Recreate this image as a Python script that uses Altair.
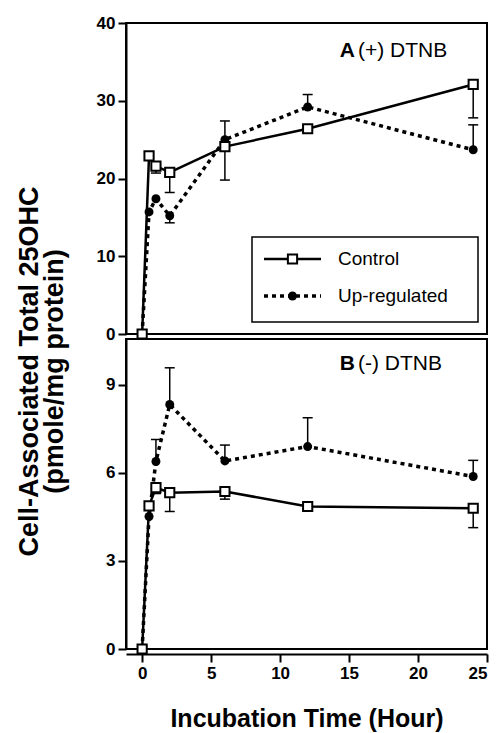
import altair as alt
import pandas as pd

# ---- data ----
hours = [0, 0.5, 1, 2, 6, 12, 24]
series = ["Control", "Up-regulated"]

ctrl_A = [0, 22.9, 21.6, 20.8, 24.1, 26.4, 32.1]
up_A = [0, 15.7, 17.4, 15.2, 25.0, 29.2, 23.7]
ctrl_A_err = [0, 0, -0.9, -2.6, -4.3, -0.4, -4.3]
up_A_err = [0, 0, 0, -0.9, 2.4, 1.6, 3.2]

ctrl_B = [0, 4.87, 5.49, 5.32, 5.36, 4.85, 4.79]
up_B = [0, 4.51, 6.38, 8.32, 6.40, 6.89, 5.87]
ctrl_B_err = [0, 0, -0.2, -0.64, -0.26, 0, -0.66]
up_B_err = [0, 0, 0.75, 1.25, 0.54, 0.98, 0.55]

y_ticks_A = [0, 10, 20, 30, 40]
y_ticks_B = [0, 3, 6, 9]
x_ticks = [0, 5, 10, 15, 20, 25]

FONT = "Liberation Sans"


def make_df(ctrl, up, ctrl_err, up_err):
    rows = []
    for h, v, e in zip(hours, ctrl, ctrl_err):
        rows.append({"hour": h, "value": v, "end": v + e, "err": e, "series": series[0]})
    for h, v, e in zip(hours, up, up_err):
        rows.append({"hour": h, "value": v, "end": v + e, "err": e, "series": series[1]})
    return pd.DataFrame(rows)


dfA = make_df(ctrl_A, up_A, ctrl_A_err, up_A_err)
dfB = make_df(ctrl_B, up_B, ctrl_B_err, up_B_err)


def panel(df, ydomain, yticks, height, letter, rest, bottom):
    x_scale = alt.Scale(domain=[-1.17, 25], nice=False, zero=False)
    y_scale = alt.Scale(domain=ydomain, nice=False, zero=False)
    if bottom:
        x_axis = alt.Axis(values=x_ticks, offset=5, tickSize=8, tickWidth=2,
                          domainWidth=2, domainColor="black", tickColor="black",
                          labelFont=FONT, labelFontWeight="bold", labelFontSize=17,
                          labelColor="black", labelPadding=3, grid=False,
                          title="Incubation Time (Hour)", titleFont=FONT,
                          titleFontSize=25, titleFontWeight="bold", titleColor="black",
                          titlePadding=25)
        y_axis = alt.Axis(values=yticks, tickSize=8, tickWidth=2, domainWidth=2,
                          domainColor="black", tickColor="black", labelFont=FONT,
                          labelFontWeight="bold", labelFontSize=17, labelColor="black",
                          labelPadding=3, grid=False, title="")
    else:
        x_axis = alt.Axis(values=x_ticks, labels=False, ticks=False, domain=False,
                          grid=False, title="")
        y_axis = alt.Axis(values=yticks, tickSize=8, tickWidth=2, domainWidth=2,
                          domainColor="black", tickColor="black", labelFont=FONT,
                          labelFontWeight="bold", labelFontSize=17, labelColor="black",
                          labelPadding=3, grid=False,
                          title=["Cell-Associated Total 25OHC", "(pmole/mg protein)"],
                          titleFont=FONT, titleFontSize=27, titleFontWeight="bold",
                          titleColor="black", titleAngle=270, titleX=-110,
                          titleY=348, titleBaseline="top", titleAlign="center",
                          titleLineHeight=25)

    X = alt.X("hour:Q", scale=x_scale, axis=x_axis)
    Y = alt.Y("value:Q", scale=y_scale, axis=y_axis)
    Yend = alt.Y("end:Q", scale=y_scale, axis=y_axis)

    base = alt.Chart(df)
    ctrl = base.transform_filter(alt.datum.series == series[0])
    up = base.transform_filter(alt.datum.series == series[1])

    ctrl_line = ctrl.mark_line(color="black", strokeWidth=2.5).encode(x=X, y=Y)
    up_line = up.mark_line(color="black", strokeWidth=3.5, strokeDash=[4, 4]).encode(x=X, y=Y)

    errs = base.transform_filter(alt.datum.err != 0)
    err_rule = errs.mark_rule(color="black", strokeWidth=1.5).encode(
        x=X, y=Y, y2=alt.Y2("end:Q"))
    err_cap = errs.mark_point(shape="M-1,0L1,0", stroke="black", strokeWidth=1.5,
                              size=100, opacity=1, filled=False).encode(x=X, y=Yend)

    up_pts = up.mark_point(shape="circle", filled=True, color="black", size=80,
                           opacity=1).encode(x=X, y=Y)
    ctrl_pts = ctrl.mark_point(shape="square", filled=True, fill="white", stroke="black",
                               strokeWidth=2, size=85, opacity=1).encode(x=X, y=Y)

    ly = 28 if not bottom else 25
    lab_df = pd.DataFrame({"a": [letter], "b": [rest]})
    lab_a = alt.Chart(lab_df).mark_text(align="right", baseline="middle", font=FONT,
                                        fontSize=21, fontWeight="bold", color="black").encode(
        x=alt.value(229), y=alt.value(ly), text="a:N")
    lab_b = alt.Chart(lab_df).mark_text(align="left", baseline="middle", font=FONT,
                                        fontSize=21, color="black").encode(
        x=alt.value(232), y=alt.value(ly), text="b:N")

    layers = [ctrl_line, up_line, err_rule, err_cap, up_pts, ctrl_pts, lab_a, lab_b]

    if not bottom:
        ldf = pd.DataFrame({"series": series})
        lbase = alt.Chart(ldf)
        box = lbase.transform_filter(alt.datum.series == series[0]).mark_rect(
            fill="white", stroke="black", strokeWidth=1.5).encode(
            x=alt.value(126), x2=alt.value(352), y=alt.value(214), y2=alt.value(299))
        c = lbase.transform_filter(alt.datum.series == series[0])
        u = lbase.transform_filter(alt.datum.series == series[1])
        c_line = c.mark_rule(color="black", strokeWidth=2.5).encode(
            x=alt.value(138), x2=alt.value(195), y=alt.value(236))
        u_line = u.mark_rule(color="black", strokeWidth=3.5, strokeDash=[4, 4]).encode(
            x=alt.value(138), x2=alt.value(195), y=alt.value(273))
        c_pt = c.mark_point(shape="square", filled=True, fill="white", stroke="black",
                            strokeWidth=2, size=85, opacity=1).encode(
            x=alt.value(166.5), y=alt.value(236))
        u_pt = u.mark_point(shape="circle", filled=True, color="black", size=80,
                            opacity=1).encode(x=alt.value(166.5), y=alt.value(273))
        c_txt = c.mark_text(align="left", baseline="middle", font=FONT, fontSize=19,
                            color="black").encode(x=alt.value(212), y=alt.value(236),
                                                  text="series:N")
        u_txt = u.mark_text(align="left", baseline="middle", font=FONT, fontSize=19,
                            color="black").encode(x=alt.value(212), y=alt.value(273),
                                                  text="series:N")
        layers += [box, c_line, u_line, c_pt, u_pt, c_txt, u_txt]

    return alt.layer(*layers).properties(width=361, height=height)


top = panel(dfA, [0, 40], y_ticks_A, 311, "A", "(+) DTNB", False)
bot = panel(dfB, [0, 10.55], y_ticks_B, 310, "B", "(-) DTNB", True)

chart = alt.vconcat(top, bot, spacing=5, bounds="flush").properties(
    padding={"left": 14, "top": 13, "right": 0, "bottom": 0},
    background="white",
).configure_view(stroke="black", strokeWidth=2)

chart.save("out.html", embed_options={"renderer": "svg", "actions": False})
